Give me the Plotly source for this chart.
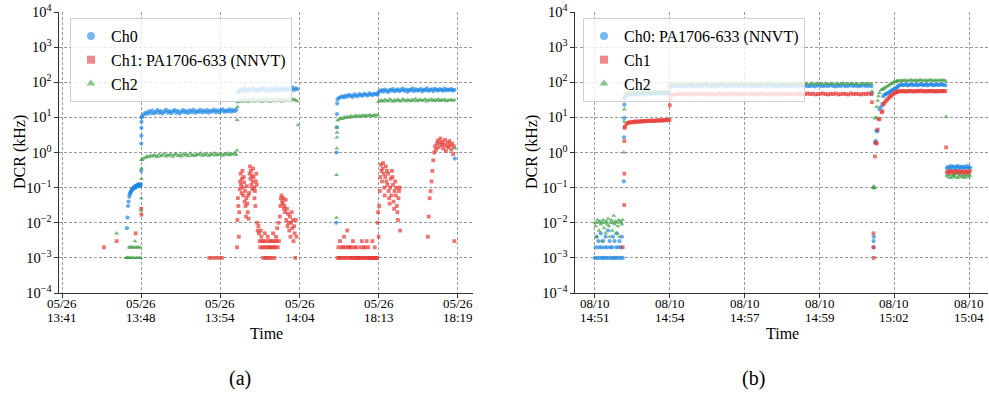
import plotly.graph_objects as go

# ---------------- tick labels ----------------
A_DATES = ["05/26"] * 6
A_TIMES = ["13:41", "13:48", "13:54", "14:04", "18:13", "18:19"]
B_DATES = ["08/10"] * 6
B_TIMES = ["14:51", "14:54", "14:57", "14:59", "15:02", "15:04"]
Y_TICKS = [1e-4, 1e-3, 1e-2, 1e-1, 1, 10, 100, 1000, 10000]
Y_TEXT = ["10<sup>−4</sup>", "10<sup>−3</sup>", "10<sup>−2</sup>", "10<sup>−1</sup>",
          "10<sup>0</sup>", "10<sup>1</sup>", "10<sup>2</sup>", "10<sup>3</sup>", "10<sup>4</sup>"]

# ---------------- data: (time_start, time_end, DCR values in kHz) --------------
# time unit = one tick interval; samples regularly spaced inside each run
A_CH0 = [
    (0.82, 0.84, [0.007, 0.014, 0.03, 0.04]),
    (0.85, 0.995, [0.055, 0.065, 0.07, 0.075, 0.08, 0.085, 0.09, 0.088, 0.095, 0.1, 0.098, 0.105,
                   0.11, 0.1, 0.11, 0.115, 0.108, 0.12, 0.112, 0.118, 0.125, 0.115, 0.12, 0.11, 0.122]),
    (1.0, 1.005, [0.3, 1.8, 3.0, 5.0, 7.5, 10.0]),
    (1.01, 2.2, [10.5, 12.0, 13.5, 12.6, 14.8, 13.1, 15.6, 12.9, 14.2, 16.0, 13.4, 15.1, 12.8, 14.6,
                 16.3, 13.7, 15.0, 13.2, 14.9, 16.1, 13.5, 15.4, 12.9, 14.4, 16.2, 13.8, 15.2, 13.3,
                 15.8, 14.1, 16.4, 13.6, 15.0, 14.3, 16.5, 13.9, 15.6, 14.0, 16.0, 13.7, 15.3, 14.6,
                 16.6, 14.2, 15.9, 13.9, 15.5, 16.8, 14.4, 15.7, 14.8, 16.9, 14.5, 16.2, 15.0, 16.4]),
    (2.22, 2.97, [52, 58, 63, 56, 66, 60, 54, 64, 59, 68, 57, 62, 55, 65, 61, 69, 58, 63, 56, 67,
                  60, 64, 57, 70, 62, 59, 66, 61, 68, 58, 65, 63, 71, 60, 67, 64]),
    (3.465, 3.475, [0.01, 1.0, 5.2, 12.4, 25]),
    (3.48, 3.985, [33, 36, 38, 40, 37, 42, 39, 44, 41, 38, 45, 42, 40, 46, 43, 41, 47, 44, 42, 48,
                   45, 43, 47, 46, 44]),
    (3.995, 4.955, [52, 56, 60, 54, 62, 57, 53, 61, 58, 64, 55, 59, 63, 56, 60, 65, 57, 62, 54, 61,
                    59, 66, 56, 63, 58, 60, 64, 55, 62, 59, 67, 57, 61, 63, 56, 65, 60, 58, 64, 61,
                    57, 66, 59, 62, 60, 64, 58, 61]),
    (4.96, 4.96, [0.67]),
]
A_CH1 = [
    (0.53, 0.53, [0.002]),
    (0.69, 0.69, [0.003]),
    (0.93, 0.93, [0.005]),
    (1.0, 1.003, [0.025, 0.017]),
    (1.86, 2.02, [0.001, 0.001, 0.001, 0.001, 0.001]),
    (2.21, 2.47, [0.002, 0.012, 0.05, 0.03, 0.004, 0.02, 0.09, 0.15, 0.25, 0.12, 0.07, 0.18, 0.3,
                  0.1, 0.06, 0.2, 0.14, 0.04, 0.08, 0.03, 0.015, 0.05, 0.11, 0.035, 0.02, 0.06, 0.013,
                  0.07, 0.25, 0.4, 0.18, 0.3, 0.12, 0.22, 0.09, 0.15, 0.35, 0.2, 0.1, 0.05, 0.08,
                  0.03, 0.15, 0.25, 0.12, 0.01, 0.006]),
    (2.48, 2.74, [0.008, 0.005, 0.003, 0.002, 0.006, 0.004, 0.003, 0.002, 0.001, 0.003, 0.002, 0.005,
                  0.001, 0.003, 0.002, 0.001, 0.004, 0.002, 0.003, 0.001, 0.002, 0.003, 0.001, 0.002,
                  0.003, 0.005, 0.002, 0.001, 0.003, 0.002, 0.004, 0.003, 0.007, 0.002, 0.01, 0.003]),
    (2.75, 2.96, [0.015, 0.03, 0.05, 0.06, 0.04, 0.035, 0.05, 0.025, 0.03, 0.02, 0.045, 0.012, 0.025,
                  0.008, 0.018, 0.01, 0.006, 0.015, 0.004, 0.01, 0.02, 0.007, 0.012, 0.003, 0.008,
                  0.005, 0.001, 0.012, 0.004]),
    (3.48, 3.98, [0.001, 0.002, 0.001, 0.003, 0.001, 0.002, 0.001, 0.002, 0.004, 0.001, 0.002, 0.001,
                  0.006, 0.002, 0.001, 0.002, 0.001, 0.002, 0.001, 0.003, 0.001, 0.002, 0.001, 0.002,
                  0.001, 0.001, 0.001, 0.001, 0.002, 0.001, 0.003, 0.001, 0.002, 0.001, 0.002, 0.001,
                  0.003, 0.001, 0.002, 0.001, 0.001, 0.001, 0.001, 0.003, 0.001, 0.001, 0.002, 0.001,
                  0.001, 0.001]),
    (3.985, 4.27, [0.01, 0.02, 0.004, 0.03, 0.08, 0.2, 0.45, 0.3, 0.15, 0.35, 0.5, 0.25, 0.1, 0.06,
                   0.2, 0.4, 0.15, 0.3, 0.12, 0.25, 0.08, 0.05, 0.035, 0.1, 0.18, 0.06, 0.3, 0.2,
                   0.12, 0.04, 0.025, 0.08, 0.15, 0.06, 0.1, 0.03, 0.02, 0.012, 0.05, 0.08, 0.1, 0.006]),
    (4.62, 4.95, [0.004, 0.015, 0.05, 0.08, 0.15, 0.3, 0.6, 1.0, 1.5, 1.2, 1.8, 2.2, 1.4, 1.9, 2.5,
                  1.6, 2.0, 1.3, 1.7, 2.3, 1.1, 1.5, 1.9, 1.4, 2.1, 1.6, 1.2, 1.8, 0.9, 1.5]),
    (4.955, 4.955, [0.003]),
]
A_CH2 = [
    (0.69, 0.69, [0.005]),
    (0.81, 0.995, [0.001, 0.001, 0.001, 0.001, 0.002, 0.001, 0.002, 0.001, 0.002, 0.001, 0.002,
                   0.001, 0.003, 0.002, 0.001, 0.002, 0.001, 0.002, 0.001, 0.002, 0.001]),
    (1.0, 1.005, [0.022, 0.05, 0.18, 0.35, 0.63]),
    (1.01, 2.2, [0.62, 0.68, 0.72, 0.78, 0.74, 0.82, 0.77, 0.86, 0.8, 0.75, 0.88, 0.79, 0.84, 0.92,
                 0.78, 0.86, 0.81, 0.9, 0.76, 0.85, 0.93, 0.8, 0.87, 0.78, 0.91, 0.83, 0.88, 0.79,
                 0.94, 0.82, 0.87, 0.8, 0.9, 0.85, 0.95, 0.81, 0.89, 0.84, 0.92, 0.8, 0.88, 0.86,
                 0.96, 0.83, 0.9, 0.85, 0.93, 0.82, 0.91, 0.87, 0.95, 0.84, 0.9, 0.88, 0.97, 0.86]),
    (2.21, 2.215, [1.15, 8.5, 20]),
    (2.22, 2.97, [27, 29, 31, 28, 33, 30, 27.5, 32, 29.5, 34, 28.5, 31, 30, 33, 28, 32, 29, 34.5,
                  30.5, 28, 33, 31, 29, 35, 30, 32.5, 28.5, 33.5, 31, 29.5, 34, 30, 32, 33, 31, 29]),
    (2.98, 2.98, [6.0]),
    (3.465, 3.475, [0.014, 0.23, 1.3, 2.7, 3.7, 5.2]),
    (3.48, 3.985, [8.2, 8.9, 9.5, 9.1, 10.2, 9.6, 10.4, 9.8, 11.0, 10.1, 10.7, 11.3, 10.4, 11.1, 10.6,
                   11.6, 10.9, 11.4, 10.8, 11.8, 11.2, 10.9, 11.7, 11.3, 11.5]),
    (3.995, 4.955, [28, 29.5, 31, 28.5, 32, 30, 29, 33, 30.5, 28, 31.5, 29.5, 32.5, 30, 28.5, 33, 31,
                    29, 32, 30.5, 28.8, 31.8, 30, 33.5, 29.2, 31, 32.2, 29.8, 30.6, 33, 28.6, 31.4,
                    30.2, 32.8, 29.4, 31.2, 30, 33.2, 29.6, 31.6, 30.4, 32.4, 29, 31, 30.8, 32, 29.8,
                    31.5]),
    (4.96, 4.96, [1.3]),
]

B_CH0 = [
    (0.0, 0.37, [0.001, 0.002, 0.004, 0.001, 0.003, 0.002, 0.001, 0.005, 0.002, 0.001, 0.003, 0.001,
                 0.002, 0.004, 0.001, 0.002, 0.006, 0.001, 0.003, 0.002, 0.001, 0.002, 0.004, 0.001,
                 0.003, 0.001, 0.002, 0.005, 0.001, 0.002, 0.003, 0.001, 0.002, 0.004, 0.001]),
    (0.385, 0.395, [0.15, 2.7, 9.6, 23, 36]),
    (0.40, 0.995, [40, 43, 45, 44, 47, 45, 48, 46, 44, 49, 47, 45, 50, 46, 48, 47, 51, 46, 49, 48,
                   47, 50, 48, 46, 51, 49, 47, 50, 48, 49]),
    (1.0, 3.69, [74, 77, 79, 76, 80, 78, 75, 79, 81, 77, 78, 80, 76, 79, 82, 77, 78, 80, 75, 79,
                 81, 78, 76, 80, 79, 77, 82, 78, 80, 76, 79, 81, 77, 80, 78, 76, 81, 79, 77, 80,
                 82, 78, 79, 76, 80, 81, 77, 79, 78, 82, 76, 80, 79, 81, 77, 78, 80, 76, 82, 79,
                 77, 80, 78, 81, 79, 76, 80, 78, 82, 77, 79, 81, 78, 80, 76, 79, 81, 78, 80, 77]),
    (3.70, 3.70, [48]),
    (3.72, 3.725, [0.002, 0.003, 0.004]),
    (3.74, 3.77, [1.9, 2.1, 4.2, 4.0]),
    (3.80, 3.84, [17, 20, 24]),
    (3.85, 4.04, [40, 44, 46, 48, 50, 53, 56, 60, 63, 66, 69, 72]),
    (4.05, 4.68, [80, 83, 85, 82, 86, 84, 81, 85, 87, 83, 84, 86, 82, 85, 88, 83, 84, 86, 81, 85,
                  87, 84, 82, 86, 85, 83, 87, 84, 86, 82]),
    (4.70, 5.01, [0.36, 0.39, 0.35, 0.41, 0.37, 0.4, 0.34, 0.39, 0.42, 0.36, 0.38, 0.4, 0.35, 0.39,
                  0.37, 0.41, 0.36, 0.38]),
]
B_CH1 = [
    (0.37, 0.37, [0.002]),
    (0.39, 0.395, [0.032, 0.25, 2.1, 5.0]),
    (0.40, 0.995, [5.5, 6.5, 7.0, 7.3, 7.1, 7.5, 7.3, 7.7, 7.4, 7.8, 7.5, 7.9, 7.6, 8.0, 7.7, 7.9,
                   8.1, 7.8, 8.2, 7.9, 8.0, 8.3, 8.0, 8.4, 8.1, 8.2, 8.5, 8.2, 8.6, 8.4]),
    (1.0, 1.005, [22, 32]),
    (1.01, 3.69, [42, 44, 45, 46, 45, 47, 46, 45, 47, 46, 45, 47, 46, 48, 45, 46, 47, 45, 46, 48,
                  46, 45, 47, 46, 48, 45, 47, 46, 45, 47, 46, 48, 46, 45, 47, 46, 48, 45, 46, 47,
                  45, 47, 46, 48, 45, 46, 47, 46, 45, 48, 46, 47, 45, 46, 48, 46, 47, 45, 46, 47,
                  48, 46, 45, 47, 46, 48, 45, 46, 47, 46, 45, 48, 46, 47, 46, 45, 47, 46, 48, 46]),
    (3.70, 3.70, [27]),
    (3.72, 3.725, [0.005, 0.002, 0.001]),
    (3.74, 3.80, [0.77, 1.9, 1.8, 4.5, 9.2, 8.8]),
    (3.83, 3.84, [14, 15]),
    (3.85, 4.04, [23, 26, 29, 32, 35, 38, 41, 44, 47, 50, 52, 54]),
    (4.05, 4.68, [54, 55, 57, 55, 56, 54, 56, 57, 55, 56, 54, 57, 55, 56, 58, 55, 56, 54, 57, 56,
                  55, 57, 56, 54, 57, 55, 56, 57, 55, 56]),
    (4.69, 4.69, [1.4]),
    (4.70, 5.01, [0.27, 0.29, 0.26, 0.3, 0.28, 0.25, 0.29, 0.27, 0.3, 0.26, 0.28, 0.29, 0.27, 0.25,
                  0.29, 0.28, 0.26, 0.3]),
]
B_CH2 = [
    (0.0, 0.37, [0.01, 0.008, 0.004, 0.012, 0.01, 0.006, 0.011, 0.009, 0.003, 0.01, 0.012, 0.007,
                 0.01, 0.005, 0.011, 0.009, 0.013, 0.008, 0.004, 0.01, 0.012, 0.006, 0.01, 0.016,
                 0.009, 0.011, 0.005, 0.01, 0.008, 0.012, 0.004, 0.011, 0.01, 0.009, 0.012]),
    (0.385, 0.395, [1.0, 7.7, 17, 35]),
    (0.40, 0.995, [45, 48, 50, 52, 49, 53, 51, 54, 50, 52, 55, 51, 53, 52, 56, 51, 54, 53, 55, 52,
                   57, 53, 54, 56, 52, 55, 57, 54, 56, 55]),
    (1.0, 3.69, [86, 89, 91, 88, 92, 90, 87, 91, 93, 89, 90, 92, 88, 91, 94, 89, 90, 92, 87, 91,
                 93, 90, 88, 92, 91, 89, 94, 90, 92, 88, 91, 93, 89, 92, 90, 88, 93, 91, 89, 92,
                 94, 90, 91, 88, 92, 93, 89, 91, 90, 94, 88, 92, 91, 93, 89, 90, 92, 88, 94, 91,
                 89, 92, 90, 93, 91, 88, 92, 90, 94, 89, 91, 93, 90, 92, 88, 91, 93, 90, 92, 89]),
    (3.70, 3.70, [55]),
    (3.72, 3.73, [0.1, 0.11, 0.095, 0.1]),
    (3.74, 3.80, [9.4, 10, 20, 30, 40, 50]),
    (3.82, 3.84, [60, 62]),
    (3.85, 4.04, [65, 68, 72, 76, 80, 85, 90, 95, 100, 104, 108, 110]),
    (4.05, 4.68, [108, 111, 114, 110, 115, 112, 109, 114, 116, 111, 113, 115, 110, 114, 117, 111,
                  113, 115, 109, 114, 116, 112, 110, 115, 113, 111, 116, 112, 114, 110]),
    (4.69, 4.69, [10.5]),
    (4.70, 5.01, [0.22, 0.2, 0.23, 0.19, 0.21, 0.22, 0.2, 0.24, 0.19, 0.21, 0.23, 0.2, 0.22, 0.19,
                  0.21, 0.23, 0.2, 0.22]),
]

A_NAMES = ["Ch0", "Ch1: PA1706-633 (NNVT)", "Ch2"]
B_NAMES = ["Ch0: PA1706-633 (NNVT)", "Ch1", "Ch2"]

# ---------------- styling ----------------
COLORS = ["#1E88E5", "#E53935", "#43A047"]
SYMBOLS = ["circle", "square", "triangle-up"]
SIZES = [4.2, 3.8, 4.4]
FONT = "Liberation Serif"
W, H = 989, 396


def expand(segs):
    xs, ys = [], []
    for t0, t1, vals in segs:
        n = len(vals)
        for i, v in enumerate(vals):
            xs.append(t0 + (t1 - t0) * i / (n - 1) if n > 1 else t0)
            ys.append(v)
    return xs, ys


fig = go.Figure()

panels = [
    ([A_CH0, A_CH1, A_CH2], A_NAMES, "x", "y", "legend"),
    ([B_CH0, B_CH1, B_CH2], B_NAMES, "x2", "y2", "legend2"),
]
for chans, names, xa, ya, lg in panels:
    for k, segs in enumerate(chans):
        xs, ys = expand(segs)
        fig.add_trace(go.Scatter(
            x=xs, y=ys, mode="markers", xaxis=xa, yaxis=ya, showlegend=False,
            marker=dict(color=COLORS[k], symbol=SYMBOLS[k], size=SIZES[k], opacity=0.7,
                        line=dict(width=0)),
            hoverinfo="skip"))
    for k in range(3):
        fig.add_trace(go.Scatter(
            x=[None], y=[None], mode="markers", xaxis=xa, yaxis=ya, name=names[k], legend=lg,
            marker=dict(color=COLORS[k], symbol=SYMBOLS[k], size=8, opacity=0.6,
                        line=dict(width=0))))


def px_x(p):
    return p / W


def px_y(p):
    return 1 - p / H


y_dom = [px_y(293), px_y(12)]
axis_common = dict(
    showline=True, linecolor="#333333", linewidth=1.2, mirror=False, automargin=False,
    ticks="outside", ticklen=3.5, tickwidth=1, tickcolor="#333333",
    showgrid=True, gridcolor="rgba(120,120,120,0.75)", gridwidth=0.8, griddash="3px,2px",
    zeroline=False, tickfont=dict(family=FONT, size=14, color="black"),
)

fig.update_layout(
    width=W, height=H, margin=dict(l=0, r=0, t=0, b=0, autoexpand=False),
    paper_bgcolor="white", plot_bgcolor="white",
    font=dict(family=FONT, color="black"),
    xaxis=dict(axis_common, domain=[px_x(59), px_x(473)], range=[-0.038, 5.19],
               tickvals=list(range(6)), showticklabels=False, anchor="y"),
    yaxis=dict(axis_common, domain=y_dom, type="log", range=[-4, 4],
               tickvals=Y_TICKS, ticktext=Y_TEXT, anchor="x",
               tickfont=dict(family=FONT, size=14.5, color="black")),
    xaxis2=dict(axis_common, domain=[px_x(575), px_x(988)], range=[-0.267, 5.25],
                tickvals=list(range(6)), showticklabels=False, anchor="y2"),
    yaxis2=dict(axis_common, domain=y_dom, type="log", range=[-4, 4],
                tickvals=Y_TICKS, ticktext=Y_TEXT, anchor="x2",
                tickfont=dict(family=FONT, size=14.5, color="black")),
    legend=dict(x=px_x(70), y=px_y(18), xanchor="left", yanchor="top",
                bgcolor="rgba(255,255,255,0.8)", bordercolor="#d0d0d0", borderwidth=1,
                font=dict(family=FONT, size=16, color="black"), tracegroupgap=0),
    legend2=dict(x=px_x(583), y=px_y(18), xanchor="left", yanchor="top",
                 bgcolor="rgba(255,255,255,0.8)", bordercolor="#d0d0d0", borderwidth=1,
                 font=dict(family=FONT, size=16, color="black"), tracegroupgap=0),
)

# two-row time tick labels
for xref, dates, times in (("x", A_DATES, A_TIMES), ("x2", B_DATES, B_TIMES)):
    for i in range(len(times)):
        for txt, yy in ((dates[i], 303), (times[i], 317)):
            fig.add_annotation(text=txt, x=i, xref=xref, y=px_y(yy), yref="paper",
                               showarrow=False, xanchor="center", yanchor="middle",
                               font=dict(family=FONT, size=13, color="black"))

ann = [
    ("DCR (kHz)", 20, 152, -90, 16),
    ("DCR (kHz)", 532, 152, -90, 16),
    ("Time", 266, 333, 0, 16),
    ("Time", 782, 333, 0, 16),
    ("(a)", 240, 378, 0, 20),
    ("(b)", 753, 378, 0, 20),
]
for text, x, y, ang, size in ann:
    fig.add_annotation(text=text, x=px_x(x), y=px_y(y), xref="paper", yref="paper",
                       showarrow=False, textangle=ang, xanchor="center", yanchor="middle",
                       font=dict(family=FONT, size=size, color="black"))

fig.write_html("out.html")
